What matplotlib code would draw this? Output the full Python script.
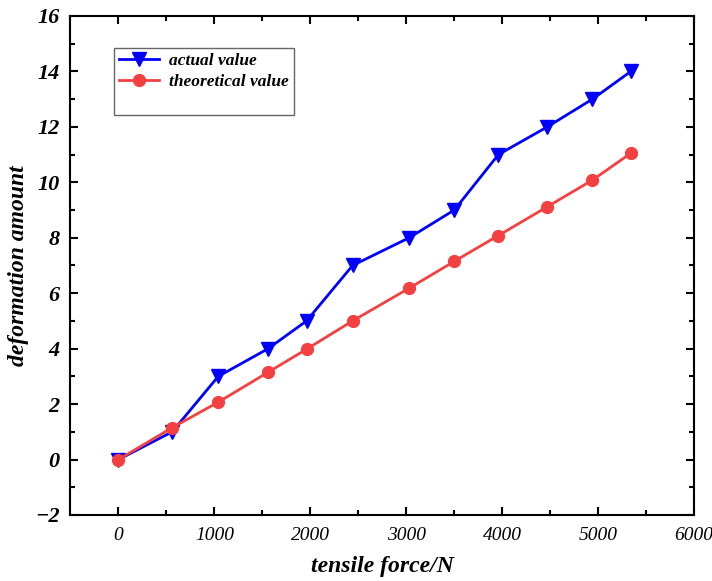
import matplotlib.pyplot as plt
from matplotlib.lines import Line2D
from matplotlib.ticker import MultipleLocator

# data
force = [0, 560, 1040, 1560, 1960, 2440, 3030, 3500, 3960, 4470, 4940, 5340]
actual = [0, 1, 3, 4, 5, 7, 8, 9, 11, 12, 13, 14]
theory = [0, 1.15, 2.07, 3.15, 3.98, 5.0, 6.18, 7.15, 8.08, 9.12, 10.08, 11.05]

plt.rcParams['font.family'] = 'Liberation Serif'
plt.rcParams['font.weight'] = 'bold'
plt.rcParams['font.style'] = 'italic'

fig = plt.figure(figsize=(7.12, 5.81), dpi=100)
ax = fig.add_axes([0.099, 0.1136, 0.876, 0.859])

ax.plot(force, actual, color='#0000ff', marker='v', markersize=10, linewidth=2,
        label='actual value', zorder=3)
ax.plot(force, theory, color='#f44040', marker='o', markersize=8.5, linewidth=2,
        label='theoretical value', zorder=4)

ax.set_xlim(-500, 6000)
ax.set_ylim(-2, 16)
ax.xaxis.set_major_locator(MultipleLocator(1000))
ax.xaxis.set_minor_locator(MultipleLocator(500))
ax.yaxis.set_major_locator(MultipleLocator(2))
ax.yaxis.set_minor_locator(MultipleLocator(1))
ax.tick_params(which='both', direction='in', top=True, right=True, width=1.5)
ax.tick_params(which='major', length=6, pad=8)
ax.tick_params(which='minor', length=3.5)
ax.tick_params(axis='y', which='major', labelsize=16)
ax.tick_params(axis='x', which='major', labelsize=14, pad=9)
for t in ax.get_xticklabels():
    t.set_fontweight('normal')
for s in ax.spines.values():
    s.set_linewidth(1.5)

ax.set_xlabel('tensile force/N', fontsize=17, fontweight='bold', labelpad=8)
ax.set_ylabel('deformation amount', fontsize=17, fontweight='bold', labelpad=4)

# blank third row keeps the empty strip at the bottom of the legend box
handles, labels = ax.get_legend_handles_labels()
handles.append(Line2D([], [], color='none'))
labels.append(' ')
leg = ax.legend(handles, labels, loc='upper left', bbox_to_anchor=(0.069, 0.936),
                fancybox=False, edgecolor='#666666', fontsize=12.5, borderpad=0.3,
                labelspacing=0.25, handlelength=2.3, handletextpad=0.6,
                borderaxespad=0)
leg.get_frame().set_linewidth(1.0)
leg.get_frame().set_alpha(1)

fig.savefig('out.png', dpi=100)
